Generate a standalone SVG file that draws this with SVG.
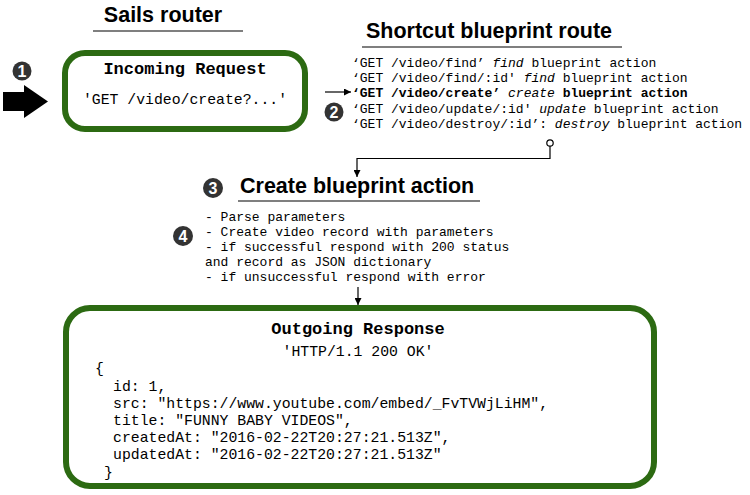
<svg xmlns="http://www.w3.org/2000/svg" width="750" height="495" viewBox="0 0 750 495">
<defs>
<style>
.title{font-family:"Liberation Sans",Arial,sans-serif;font-weight:bold;font-size:21.5px;fill:#000}
.uline{stroke:#000;stroke-width:1.2}
.box{fill:#fff;stroke:#2c6a12;stroke-width:6}
.mono{font-family:"Liberation Mono","Courier New",monospace;fill:#000}
.mb{font-weight:bold}
.badge circle{fill:#333}
.badge text{font-family:"Liberation Sans",Arial,sans-serif;font-weight:bold;font-size:16px;fill:#fff;text-anchor:middle}
.conn{fill:none;stroke:#000;stroke-width:1.2}
</style>
<marker id="ah" viewBox="0 0 10 10" refX="10" refY="5" markerWidth="7" markerHeight="7" markerUnits="userSpaceOnUse" orient="auto">
<path d="M0,0 L10,5 L0,10 z" fill="#000"/>
</marker>
</defs>
<rect width="750" height="495" fill="#fff"/>

<g id="sails-router-title">
<text class="title" x="163" y="22" text-anchor="middle">Sails router</text>
<line class="uline" x1="93" y1="31" x2="243" y2="31"/>
</g>

<g id="badge1" class="badge"><circle cx="22" cy="71" r="9.5"/><text x="22" y="76.5">1</text></g>

<g id="incoming-request">
<rect class="box" x="65" y="53" width="240" height="76" rx="20"/>
<text class="mono mb" x="185" y="74" font-size="17" text-anchor="middle">Incoming Request</text>
<text class="mono" x="185" y="104" font-size="14.8" text-anchor="middle">'GET /video/create?...'</text>
</g>

<g id="shortcut-title">
<text class="title" x="489" y="38" text-anchor="middle">Shortcut blueprint route</text>
<line class="uline" x1="362" y1="47" x2="622" y2="47"/>
</g>

<g id="routes" class="mono" font-size="13">
<text x="352" y="67">‘GET /video/find’ <tspan font-style="italic">find</tspan> blueprint action</text>
<text x="352" y="82">‘GET /video/find/:id' <tspan font-style="italic">find</tspan> blueprint action</text>
<text x="352" y="97" font-weight="bold">‘GET /video/create’ <tspan font-style="italic" font-weight="normal">create</tspan> blueprint action</text>
<text x="352" y="113">‘GET /video/update/:id' <tspan font-style="italic">update</tspan> blueprint action</text>
<text x="352" y="128">‘GET /video/destroy/:id’: <tspan font-style="italic">destroy</tspan> blueprint action</text>
</g>

<g id="badge2" class="badge"><circle cx="334" cy="112" r="9.5"/><text x="334" y="117.5">2</text></g>

<g id="create-title">
<text class="title" x="240" y="193">Create blueprint action</text>
<line class="uline" x1="238" y1="201" x2="480" y2="201"/>
</g>

<g id="badge3" class="badge"><circle cx="213" cy="188" r="10"/><text x="213" y="193.5">3</text></g>

<g id="steps" class="mono" font-size="13">
<text x="205" y="221">- Parse parameters</text>
<text x="205" y="236">- Create video record with parameters</text>
<text x="205" y="251">- if successful respond with 200 status</text>
<text x="205" y="266">and record as JSON dictionary</text>
<text x="205" y="281">- if unsuccessful respond with error</text>
</g>

<g id="badge4" class="badge"><circle cx="183" cy="236" r="10"/><text x="183" y="241.5">4</text></g>

<g id="outgoing-response">
<rect class="box" x="66" y="308" width="588" height="178" rx="24"/>
<text class="mono mb" x="358" y="334" font-size="17" text-anchor="middle">Outgoing Response</text>
<text class="mono" x="358" y="356" font-size="14.8" text-anchor="middle">'HTTP/1.1 200 OK'</text>
<g font-size="14.8">
<text class="mono" x="95" y="373">{</text>
<text class="mono" x="113" y="391">id: 1,</text>
<text class="mono" x="113" y="408">src: "https://www.youtube.com/embed/_FvTVWjLiHM",</text>
<text class="mono" x="113" y="425">title: "FUNNY BABY VIDEOS",</text>
<text class="mono" x="113" y="442">createdAt: "2016-02-22T20:27:21.513Z",</text>
<text class="mono" x="113" y="459">updatedAt: "2016-02-22T20:27:21.513Z"</text>
<text class="mono" x="104" y="477">}</text>
</g>
</g>

<g id="connectors">
<path d="M3,92 H24 V85 L48,101.5 L24,118 V111 H3 z" fill="#000"/>
<line class="conn" x1="325" y1="92" x2="351" y2="92" marker-end="url(#ah)"/>
<path class="conn" d="M550,146 V158.5 H357 V177" marker-end="url(#ah)"/>
<circle cx="550" cy="143" r="3.2" fill="#fff" stroke="#000" stroke-width="1.2"/>
<line class="conn" x1="358" y1="287" x2="358" y2="305" marker-end="url(#ah)"/>
</g>
</svg>
